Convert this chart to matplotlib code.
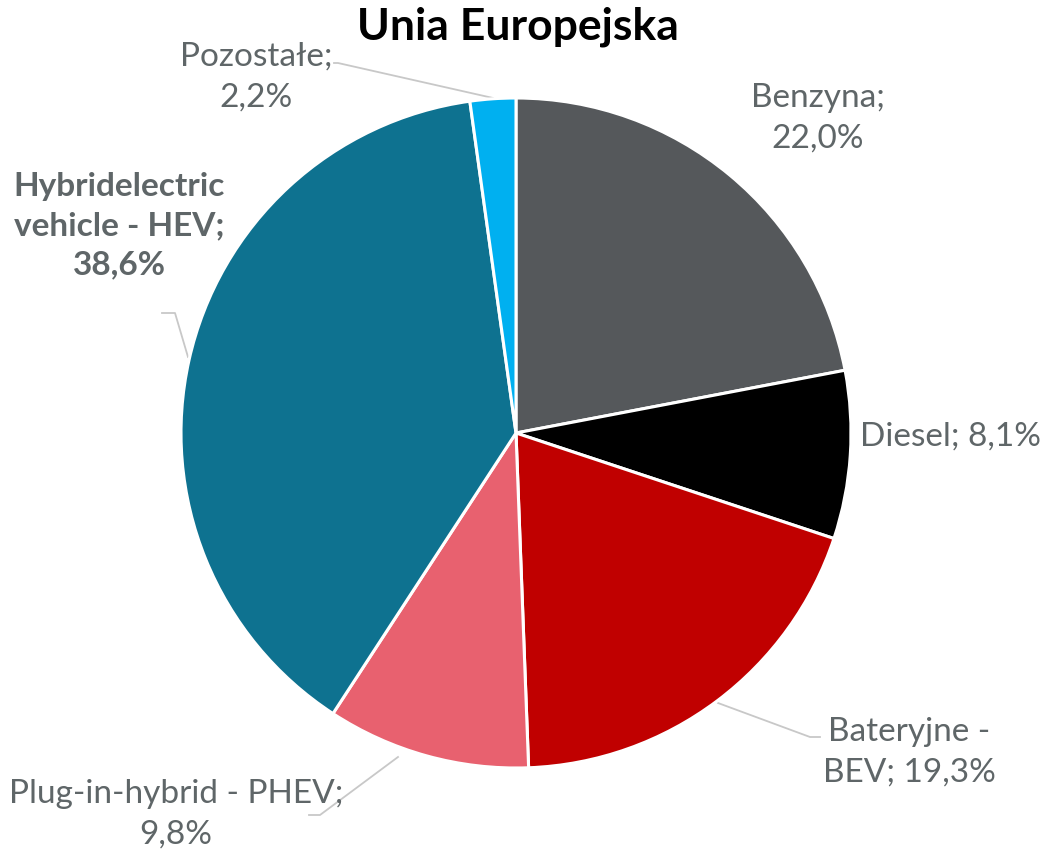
import matplotlib.pyplot as plt

# dane
labels = ['Benzyna', 'Diesel', 'Bateryjne -\nBEV', 'Plug-in-hybrid - PHEV', 'Hybridelectric\nvehicle - HEV', 'Pozostałe']
values = [22.0, 8.1, 19.3, 9.8, 38.6, 2.2]
colors = ['#55585B', '#000000', '#C00000', '#E8616F', '#0E7290', '#00B0F0']

plt.rcParams['font.family'] = ['Lato', 'DejaVu Sans']
txt_color = '#5F6668'
line_color = '#C8C8C8'

W, H = 1048, 852
fig = plt.figure(figsize=(W / 100, H / 100), dpi=100)
ax = fig.add_axes([0, 0, 1, 1])


def py(y):
    # pixel y (z góry) -> współrzędna osi
    return H - y


ax.pie(values, colors=colors, startangle=90, counterclock=False,
       center=(516, py(433)), radius=335, frame=True,
       wedgeprops=dict(edgecolor='white', linewidth=2.2))
ax.set_xlim(0, W)
ax.set_ylim(0, H)
ax.axis('off')


def pct(i):
    return ('%.1f' % values[i]).replace('.', ',') + '%'


fs = 24
ls = 1.42
# Benzyna
ax.text(818, py(118), '%s;\n%s' % (labels[0], pct(0)),
        ha='center', va='center', fontsize=fs, color=txt_color, linespacing=ls)
# Diesel
ax.text(860, py(437), '%s; %s' % (labels[1], pct(1)), ha='left', va='center',
        fontsize=fs, color=txt_color)
# BEV
ax.text(909, py(752), '%s; %s' % (labels[2], pct(2)), ha='center', va='center',
        fontsize=fs, color=txt_color, linespacing=ls)
# PHEV
ax.text(176, py(814), '%s;\n%s' % (labels[3], pct(3)),
        ha='center', va='center', fontsize=fs, color=txt_color, linespacing=ls)
# HEV
ax.text(119, py(226), '%s;\n%s' % (labels[4], pct(4)),
        ha='center', va='center', fontsize=fs, color=txt_color, fontweight='bold',
        linespacing=ls)
# Pozostałe
ax.text(256, py(77), '%s;\n%s' % (labels[5], pct(5)),
        ha='center', va='center', fontsize=fs, color=txt_color, linespacing=ls)

# linie odniesienia
leaders = [
    [(493, 98), (338, 63), (334, 63)],
    [(188, 357), (175, 313), (162, 313)],
    [(398, 757), (320, 815), (309, 815)],
    [(718, 703), (810, 737), (820, 737)],
]
for pts in leaders:
    ax.plot([p[0] for p in pts], [py(p[1]) for p in pts], color=line_color, lw=1.3,
            zorder=0)

ax.text(518, py(27), 'Unia Europejska', ha='center', va='center', fontsize=32,
        fontweight='bold', color='black')

fig.savefig('out.png', dpi=100)
